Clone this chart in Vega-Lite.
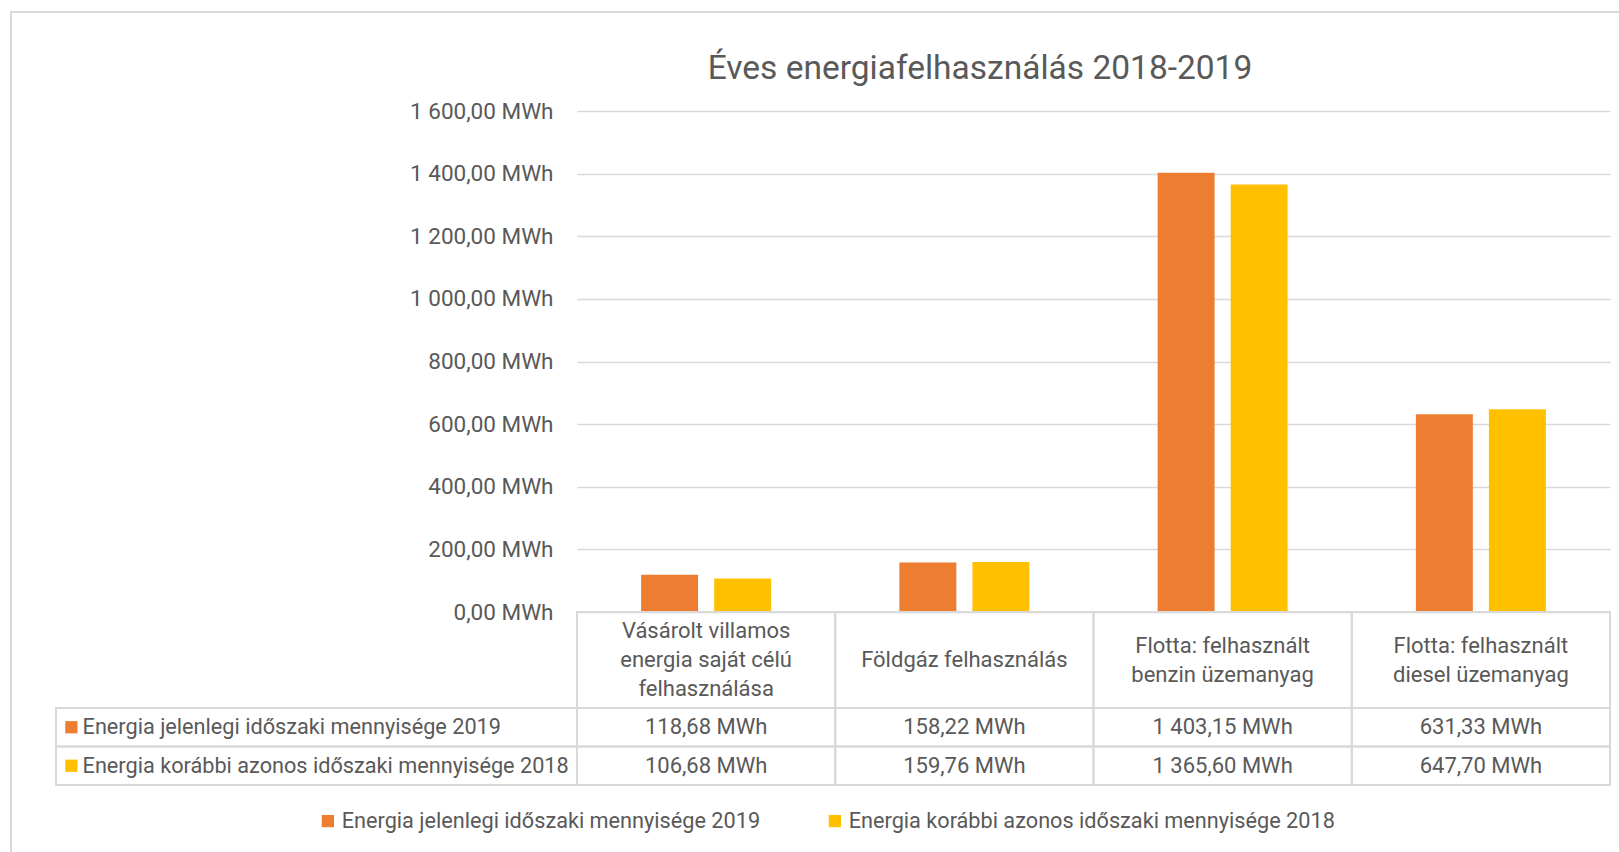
{
  "$schema": "https://vega.github.io/schema/vega-lite/v6.json",
  "padding": {"left": 10, "top": 11, "right": 0, "bottom": 0},
  "background": "white",
  "datasets": {
    "titleData": [{"title": "Éves energiafelhasználás 2018-2019"}],
    "bars": [
      {"category": "Vásárolt villamos\nenergia saját célú\nfelhasználása", "series": "Energia jelenlegi időszaki mennyisége 2019", "value": 118.68},
      {"category": "Földgáz felhasználás", "series": "Energia jelenlegi időszaki mennyisége 2019", "value": 158.22},
      {"category": "Flotta: felhasznált\nbenzin üzemanyag", "series": "Energia jelenlegi időszaki mennyisége 2019", "value": 1403.15},
      {"category": "Flotta: felhasznált\ndiesel üzemanyag", "series": "Energia jelenlegi időszaki mennyisége 2019", "value": 631.33},
      {"category": "Vásárolt villamos\nenergia saját célú\nfelhasználása", "series": "Energia korábbi azonos időszaki mennyisége 2018", "value": 106.68},
      {"category": "Földgáz felhasználás", "series": "Energia korábbi azonos időszaki mennyisége 2018", "value": 159.76},
      {"category": "Flotta: felhasznált\nbenzin üzemanyag", "series": "Energia korábbi azonos időszaki mennyisége 2018", "value": 1365.60},
      {"category": "Flotta: felhasznált\ndiesel üzemanyag", "series": "Energia korábbi azonos időszaki mennyisége 2018", "value": 647.70}
    ],
    "cats": [
      {"category": "Vásárolt villamos\nenergia saját célú\nfelhasználása"},
      {"category": "Földgáz felhasználás"},
      {"category": "Flotta: felhasznált\nbenzin üzemanyag"},
      {"category": "Flotta: felhasznált\ndiesel üzemanyag"}
    ],
    "series": [
      {"series": "Energia jelenlegi időszaki mennyisége 2019"},
      {"series": "Energia korábbi azonos időszaki mennyisége 2018"}
    ],
    "empty": []
  },
  "spacing": 0,
  "bounds": "flush",
  "vconcat": [
    {
      "width": 1609, "height": 99,
      "data": {"name": "titleData"},
      "view": {"stroke": "#D9D9D9", "strokeWidth": 2, "strokeDash": [1609, 1708, 99]},
      "mark": {"type": "text", "fontSize": 33.5, "font": "Roboto", "color": "#595959", "baseline": "alphabetic", "dx": 164.5, "dy": 17},
      "encoding": {"text": {"field": "title"}}
    },
    {
      "spacing": 0,
      "bounds": "flush",
      "hconcat": [
        {
          "width": 45, "height": 741,
          "data": {"name": "empty"},
          "view": {"stroke": "#D9D9D9", "strokeWidth": 2, "strokeDash": [0, 831, 741]},
          "mark": "point"
        },
        {
          "columns": 2,
          "spacing": 0,
          "bounds": "flush",
          "align": "each",
          "concat": [
            {
              "width": 521, "height": 501,
              "data": {"name": "empty"},
              "mark": "point"
            },
            {
              "width": 1033, "height": 501,
              "data": {"name": "bars"},
              "mark": {"type": "bar"},
              "encoding": {
                "x": {
                  "field": "category", "type": "nominal",
                  "scale": {"domain": ["Vásárolt villamos\nenergia saját célú\nfelhasználása", "Földgáz felhasználás", "Flotta: felhasznált\nbenzin üzemanyag", "Flotta: felhasznált\ndiesel üzemanyag"], "paddingInner": 0, "paddingOuter": 0},
                  "axis": null
                },
                "xOffset": {
                  "field": "series", "type": "nominal",
                  "scale": {"domain": ["Energia jelenlegi időszaki mennyisége 2019", "Energia korábbi azonos időszaki mennyisége 2018"], "paddingInner": 0.22, "paddingOuter": 0.878}
                },
                "y": {
                  "field": "value", "type": "quantitative",
                  "scale": {"domain": [0, 1600], "nice": false},
                  "axis": {
                    "values": [0, 200, 400, 600, 800, 1000, 1200, 1400, 1600],
                    "format": "$,.2f",
                    "title": null,
                    "domain": false,
                    "ticks": false,
                    "labelPadding": 24,
                    "labelFontSize": 22.5,
                    "labelColor": "#595959",
                    "labelFont": "Roboto",
                    "gridColor": "#D9D9D9",
                    "gridWidth": 1.5
                  }
                },
                "color": {
                  "field": "series", "type": "nominal",
                  "scale": {"domain": ["Energia jelenlegi időszaki mennyisége 2019", "Energia korábbi azonos időszaki mennyisége 2018"], "range": ["#ED7D31", "#FFC000"]},
                  "legend": {
                    "orient": "none",
                    "legendX": 306,
                    "legendY": 798,
                    "direction": "horizontal",
                    "title": null,
                    "symbolType": "square",
                    "symbolSize": 150,
                    "symbolStrokeWidth": 0,
                    "symbolOpacity": 1,
                    "labelFontSize": 21.7,
                    "labelFont": "Roboto",
                    "labelColor": "#595959",
                    "labelOffset": 3,
                    "columnPadding": 63,
                    "labelLimit": 600
                  }
                }
              }
            },
            {
              "width": 521, "height": 96,
              "data": {"name": "empty"},
              "mark": "point"
            },
            {
              "width": 1033, "height": 96,
              "data": {"name": "cats"},
              "encoding": {
                "x": {
                  "field": "category", "type": "nominal",
                  "scale": {"domain": ["Vásárolt villamos\nenergia saját célú\nfelhasználása", "Földgáz felhasználás", "Flotta: felhasznált\nbenzin üzemanyag", "Flotta: felhasznált\ndiesel üzemanyag"], "paddingInner": 0, "paddingOuter": 0},
                  "axis": null
                }
              },
              "layer": [
                {"mark": {"type": "rect", "fill": "transparent", "stroke": "#D9D9D9", "strokeWidth": 2}},
                {"transform": [{"filter": {"field": "category", "oneOf": ["Vásárolt villamos\nenergia saját célú\nfelhasználása"]}}],
                 "mark": {"type": "text", "lineBreak": "\n", "fontSize": 22, "font": "Roboto", "color": "#595959", "lineHeight": 29, "dy": -29},
                 "encoding": {"text": {"field": "category"}}},
                {"transform": [{"filter": {"field": "category", "oneOf": ["Flotta: felhasznált\nbenzin üzemanyag", "Flotta: felhasznált\ndiesel üzemanyag"]}}],
                 "mark": {"type": "text", "lineBreak": "\n", "fontSize": 22, "font": "Roboto", "color": "#595959", "lineHeight": 29, "dy": -14.5},
                 "encoding": {"text": {"field": "category"}}},
                {"transform": [{"filter": {"field": "category", "oneOf": ["Földgáz felhasználás"]}}],
                 "mark": {"type": "text", "fontSize": 22, "font": "Roboto", "color": "#595959"},
                 "encoding": {"text": {"field": "category"}}}
              ]
            },
            {
              "width": 521, "height": 77,
              "data": {"name": "series"},
              "encoding": {
                "y": {
                  "field": "series", "type": "nominal",
                  "scale": {"domain": ["Energia jelenlegi időszaki mennyisége 2019", "Energia korábbi azonos időszaki mennyisége 2018"], "paddingInner": 0, "paddingOuter": 0},
                  "axis": null
                }
              },
              "layer": [
                {"mark": {"type": "rect", "fill": "transparent", "stroke": "#D9D9D9", "strokeWidth": 2}},
                {"mark": {"type": "point", "shape": "square", "filled": true, "size": 150, "opacity": 1, "strokeWidth": 0},
                 "encoding": {
                   "x": {"datum": 0.0295, "type": "quantitative", "scale": {"domain": [0, 1], "nice": false, "zero": false}, "axis": null},
                   "fill": {"field": "series", "type": "nominal", "scale": {"domain": ["Energia jelenlegi időszaki mennyisége 2019", "Energia korábbi azonos időszaki mennyisége 2018"], "range": ["#ED7D31", "#FFC000"]}, "legend": null}
                 }},
                {"mark": {"type": "text", "align": "left", "fontSize": 21.7, "font": "Roboto", "color": "#595959"},
                 "encoding": {
                   "x": {"datum": 0.051, "type": "quantitative"},
                   "text": {"field": "series"}
                 }}
              ]
            },
            {
              "width": 1033, "height": 77,
              "data": {"name": "bars"},
              "encoding": {
                "x": {
                  "field": "category", "type": "nominal",
                  "scale": {"domain": ["Vásárolt villamos\nenergia saját célú\nfelhasználása", "Földgáz felhasználás", "Flotta: felhasznált\nbenzin üzemanyag", "Flotta: felhasznált\ndiesel üzemanyag"], "paddingInner": 0, "paddingOuter": 0},
                  "axis": null
                },
                "y": {
                  "field": "series", "type": "nominal",
                  "scale": {"domain": ["Energia jelenlegi időszaki mennyisége 2019", "Energia korábbi azonos időszaki mennyisége 2018"], "paddingInner": 0, "paddingOuter": 0},
                  "axis": null
                }
              },
              "layer": [
                {"mark": {"type": "rect", "fill": "transparent", "stroke": "#D9D9D9", "strokeWidth": 2}},
                {"mark": {"type": "text", "fontSize": 22, "font": "Roboto", "color": "#595959"},
                 "encoding": {"text": {"field": "value", "type": "quantitative", "format": "$,.2f"}}}
              ]
            }
          ]
        }
      ]
    }
  ],
  "config": {
    "font": "Roboto",
    "view": {"stroke": null},
    "locale": {
      "number": {"decimal": ",", "thousands": " ", "grouping": [3], "currency": ["", " MWh"]}
    }
  }
}
